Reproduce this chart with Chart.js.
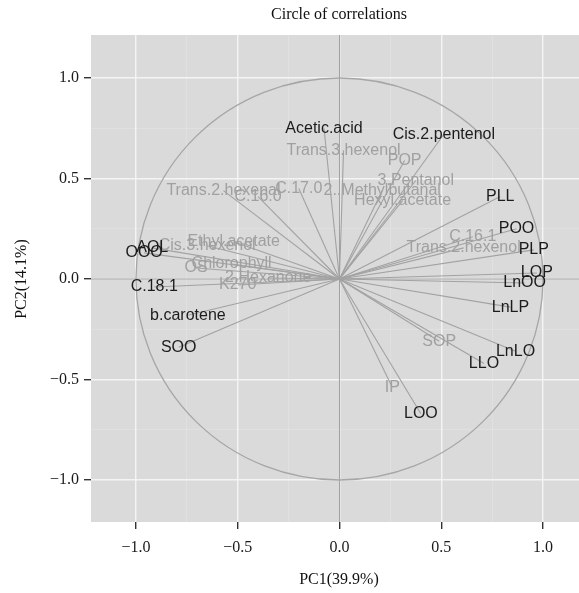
<!DOCTYPE html>
<html>
<head>
<meta charset="utf-8">
<script src="https://cdn.jsdelivr.net/npm/chart.js@4.4.1/dist/chart.umd.min.js"></script>
<style>
  html, body { margin: 0; padding: 0; background: #fff; }
  #wrap { width: 579px; height: 593px; }
</style>
</head>
<body>
<div id="wrap"><canvas id="chart"></canvas></div>
<script>
// variables well represented (dark labels)
var darkVars = ['Acetic.acid', 'Cis.2.pentenol', 'PLL', 'POO', 'PLP', 'LOP', 'LnOO', 'LnLP',
  'LnLO', 'LLO', 'LOO', 'SOO', 'b.carotene', 'C.18.1', 'OOO', 'AOL'];
var darkX = [-0.076, 0.513, 0.79, 0.87, 0.955, 0.97, 0.91, 0.84, 0.865, 0.71, 0.40, -0.79, -0.745, -0.91, -0.96, -0.92];
var darkY = [0.75, 0.72, 0.41, 0.25, 0.145, 0.03, -0.02, -0.14, -0.36, -0.42, -0.67, -0.34, -0.18, -0.04, 0.13, 0.155];

// variables poorly represented (grey labels)
var greyVars = ['Trans.3.hexenol', 'POP', '3.Pentanol', '2..Methylbutanal', 'Hexyl.acetate', 'C.17.0',
  'Trans.2.hexenal', 'C.16.0', 'Cis.3.hexenol', 'Ethyl.acetate', 'Chlorophyll', 'OS', '2.Hexanone',
  'K270', 'C.16.1', 'Trans.2.hexenol', 'SOP', 'IP'];
var greyX = [0.02, 0.32, 0.375, 0.21, 0.31, -0.20, -0.57, -0.40, -0.65, -0.52, -0.53, -0.705, -0.35, -0.50, 0.655, 0.61, 0.49, 0.26];
var greyY = [0.64, 0.59, 0.49, 0.44, 0.39, 0.45, 0.44, 0.41, 0.165, 0.185, 0.075, 0.055, 0.005, -0.03, 0.21, 0.155, -0.31, -0.54];

var tickLabels = [-1.0, -0.5, 0.0, 0.5, 1.0];
var titleText = 'Circle of correlations';
var xTitle = 'PC1(39.9%)';
var yTitle = 'PC2(14.1%)';

var datasets = [];
function addArrows(xs, ys) {
  for (var i = 0; i < xs.length; i++) {
    datasets.push({
      data: [{x: 0, y: 0}, {x: xs[i], y: ys[i]}],
      showLine: true,
      borderColor: '#a2a2a2',
      borderWidth: 1.1,
      pointRadius: 0
    });
  }
}
addArrows(greyX, greyY);
addArrows(darkX, darkY);

function isMajor(v) {
  return tickLabels.some(function(t) { return Math.abs(t - v) < 1e-6; });
}
function fmt(v) {
  if (!isMajor(v)) return '';
  return (v < -1e-9 ? '\u2212' : '') + Math.abs(v).toFixed(1);
}

var serif = '"Liberation Serif", "DejaVu Serif", serif';
var sans = '"Liberation Sans", Arial, sans-serif';

var gridOpts = {
  color: function(c) { return c.tick && isMajor(c.tick.value) ? '#f4f4f4' : 'rgba(255,255,255,0.22)'; },
  lineWidth: function(c) { return c.tick && isMajor(c.tick.value) ? 1.4 : 0.8; },
  tickColor: function(c) { return c.tick && isMajor(c.tick.value) ? '#333333' : 'rgba(0,0,0,0)'; },
  tickLength: 7,
  drawTicks: true
};

var panelPlugin = {
  id: 'panel',
  beforeDraw: function(chart) {
    var a = chart.chartArea, ctx = chart.ctx;
    ctx.save();
    ctx.fillStyle = '#dadada';
    ctx.fillRect(a.left, a.top, a.right - a.left, a.bottom - a.top);
    ctx.restore();
  },
  beforeDatasetsDraw: function(chart) {
    var a = chart.chartArea, ctx = chart.ctx;
    var xs = chart.scales.x, ys = chart.scales.y;
    var cx = xs.getPixelForValue(0), cy = ys.getPixelForValue(0);
    ctx.save();
    ctx.beginPath();
    ctx.rect(a.left, a.top, a.right - a.left, a.bottom - a.top);
    ctx.clip();
    ctx.strokeStyle = '#a0a0a0';
    ctx.lineWidth = 1;
    ctx.beginPath();
    ctx.moveTo(a.left, cy); ctx.lineTo(a.right, cy);
    ctx.moveTo(cx, a.top); ctx.lineTo(cx, a.bottom);
    ctx.stroke();
    ctx.strokeStyle = '#a6a6a6';
    ctx.lineWidth = 1.3;
    ctx.beginPath();
    ctx.ellipse(cx, cy, xs.getPixelForValue(1) - cx, cy - ys.getPixelForValue(1), 0, 0, Math.PI * 2);
    ctx.stroke();
    ctx.restore();
  },
  afterDatasetsDraw: function(chart) {
    var ctx = chart.ctx, xs = chart.scales.x, ys = chart.scales.y;
    ctx.save();
    ctx.font = '16px ' + sans;
    ctx.textAlign = 'center';
    ctx.textBaseline = 'middle';
    ctx.fillStyle = '#a0a0a0';
    greyVars.forEach(function(n, i) {
      ctx.fillText(n, xs.getPixelForValue(greyX[i]), ys.getPixelForValue(greyY[i]));
    });
    ctx.fillStyle = '#1c1c1c';
    darkVars.forEach(function(n, i) {
      ctx.fillText(n, xs.getPixelForValue(darkX[i]), ys.getPixelForValue(darkY[i]));
    });
    ctx.restore();
  },
  afterDraw: function(chart) {
    var ctx = chart.ctx;
    ctx.save();
    ctx.fillStyle = '#111';
    ctx.font = '16px ' + serif;
    ctx.textAlign = 'center';
    ctx.textBaseline = 'middle';
    ctx.fillText(titleText, 339, 15);
    ctx.fillText(xTitle, 339, 580);
    ctx.translate(22, 279);
    ctx.rotate(-Math.PI / 2);
    ctx.fillText(yTitle, 0, 0);
    ctx.restore();
  }
};

new Chart(document.getElementById('chart'), {
  type: 'scatter',
  data: { datasets: datasets },
  options: {
    responsive: true,
    maintainAspectRatio: false,
    animation: false,
    layout: { padding: { top: 35, right: 0, bottom: 0, left: 0 } },
    plugins: { legend: { display: false }, tooltip: { enabled: false }, title: { display: false } },
    scales: {
      x: {
        type: 'linear',
        min: -1.221,
        max: 1.177,
        afterFit: function(s) { s.height = 71; },
        border: { display: false },
        grid: gridOpts,
        ticks: {
          stepSize: 0.25,
          includeBounds: false,
          autoSkip: false,
          maxRotation: 0,
          padding: 9,
          color: '#1a1a1a',
          font: { family: serif, size: 16 },
          callback: fmt
        }
      },
      y: {
        type: 'linear',
        min: -1.209,
        max: 1.214,
        afterFit: function(s) { s.width = 91; },
        border: { display: false },
        grid: gridOpts,
        ticks: {
          stepSize: 0.25,
          includeBounds: false,
          autoSkip: false,
          padding: 5,
          color: '#1a1a1a',
          font: { family: serif, size: 16 },
          callback: fmt
        }
      }
    }
  },
  plugins: [panelPlugin]
});
</script>
</body>
</html>
